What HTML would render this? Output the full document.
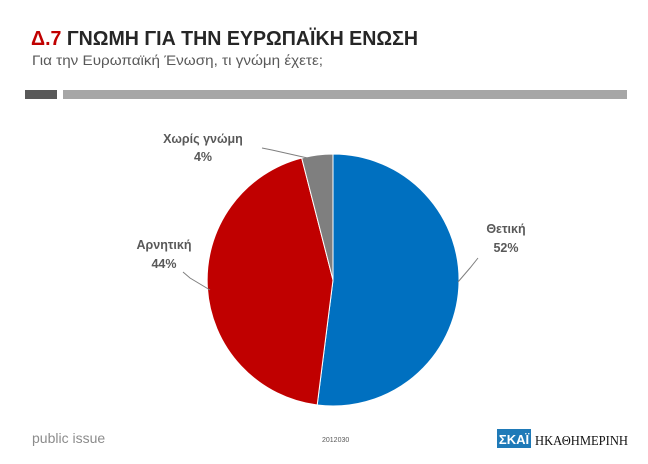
<!DOCTYPE html>
<html><head><meta charset="utf-8"><style>
body{margin:0;width:648px;height:459px;background:#fff;overflow:hidden;font-family:"Liberation Sans","DejaVu Sans",sans-serif}
</style></head><body>
<svg width="648" height="459" xmlns="http://www.w3.org/2000/svg" font-family="Liberation Sans, DejaVu Sans, sans-serif">
<text x="31" y="45" font-size="20" font-weight="bold" fill="#262626" textLength="387" lengthAdjust="spacingAndGlyphs"><tspan fill="#c00000">Δ.7</tspan> ΓΝΩΜΗ ΓΙΑ ΤΗΝ ΕΥΡΩΠΑΪΚΗ ΕΝΩΣΗ</text>
<text x="32" y="65" font-size="14" fill="#595959" textLength="291" lengthAdjust="spacingAndGlyphs">Για την Ευρωπαϊκή Ένωση, τι γνώμη έχετε;</text>
<rect x="25" y="90" width="32" height="9" fill="#595959"/>
<rect x="63" y="90" width="564" height="9" fill="#a6a6a6"/>
<path d="M333 280 L333 154 A126 126 0 1 1 317.2 405 Z" fill="#0070c0" stroke="#fff" stroke-width="1"/>
<path d="M333 280 L317.2 405 A126 126 0 0 1 301.7 158 Z" fill="#c00000" stroke="#fff" stroke-width="1"/>
<path d="M333 280 L301.7 158 A126 126 0 0 1 333 154 Z" fill="#7f7f7f" stroke="#fff" stroke-width="1"/>
<g stroke="#7f7f7f" stroke-width="1" fill="none">
<polyline points="262,148 272,150 312,159"/>
<polyline points="183,272 190,278 210,290"/>
<polyline points="478,258 470,268 458,282"/>
</g>
<g font-size="12.5" font-weight="bold" fill="#595959" text-anchor="middle">
<text x="203" y="143">Χωρίς γνώμη</text><text x="203" y="161">4%</text>
<text x="164" y="249">Αρνητική</text><text x="164" y="268">44%</text>
<text x="506" y="233">Θετική</text><text x="506" y="252">52%</text>
</g>
<text x="32" y="443" font-size="14" fill="#8c8c8c">public issue</text>
<text x="322" y="442" font-size="7" fill="#595959">2012030</text>
<rect x="497" y="429" width="34" height="19" fill="#1f7ab8"/>
<text x="514" y="444" font-size="13" font-weight="bold" fill="#fff" text-anchor="middle">ΣΚΑΪ</text>
<text x="535" y="445" font-size="14" font-family="Liberation Serif, serif" fill="#111" textLength="93" lengthAdjust="spacingAndGlyphs">ΗΚΑΘΗΜΕΡΙΝΗ</text>
</svg>
</body></html>
